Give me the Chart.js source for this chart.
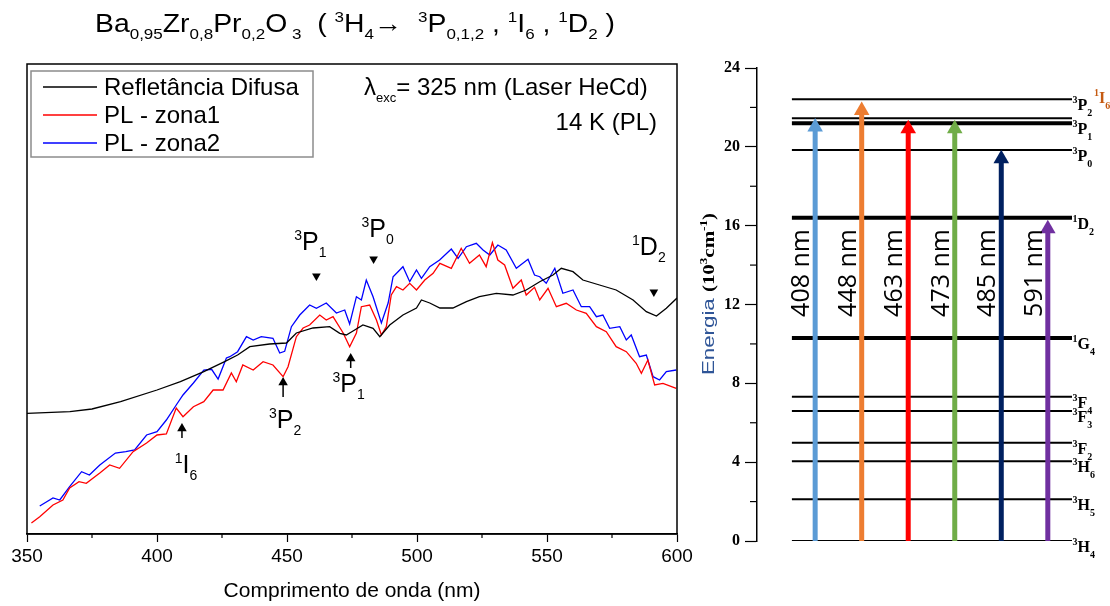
<!DOCTYPE html>
<html>
<head>
<meta charset="utf-8">
<script src="https://cdn.jsdelivr.net/npm/chart.js@4.4.0/dist/chart.umd.min.js"></script>
<style>
  html, body { margin: 0; padding: 0; background: #fff; }
  #wrap { position: relative; width: 1110px; height: 606px; overflow: hidden; }
  #spec { position: absolute; left: 0; top: 0; }
  #levels { position: absolute; left: 700px; top: 0; }
</style>
</head>
<body>
<div id="wrap">
  <canvas id="spec" width="700" height="606"></canvas>
  <canvas id="levels" width="410" height="606"></canvas>
</div>
<script>
// ---- spectra (wavelength in nm, intensity in arbitrary units) ----
const reflNm = [350, 366.5, 375, 386, 400, 409, 418, 426, 431, 435.7, 443.3, 449.8, 453.6, 460, 466.4, 470.3, 472.8, 475.4, 479.2, 483.1, 485.7, 489.5, 494.6, 499.8, 501.7, 504.9, 508.8, 513.8, 519, 524, 530.5, 536.9, 542, 547.2, 552.3, 555.5, 560, 563.8, 570.2, 576.6, 583.1, 588.2, 592.1, 595.9, 600];
const reflVal = [120.7, 122.3, 125, 132.3, 144, 152.3, 162.3, 172.3, 179, 187.3, 190, 191, 201, 206, 207.3, 200.7, 199, 203, 209, 205.7, 197.3, 209, 219, 226, 234, 231, 226, 226, 232.3, 237.3, 240.7, 239, 244, 252.3, 259, 265.7, 262.3, 254, 249, 244, 234, 222.3, 218, 225.7, 236];

const zona1Nm = [351.7, 354.9, 360, 363.8, 366.4, 370, 372.8, 378, 381.8, 385.6, 390.8, 396, 400, 403.6, 407.4, 410, 414, 418, 421.6, 425.4, 428.6, 430.5, 433, 437, 440.8, 444.6, 448.5, 450.4, 453.6, 456.2, 458.7, 462.6, 465.1, 467.7, 471.6, 474.1, 476.7, 478.6, 481.8, 484.4, 486.3, 488.2, 490.1, 492.1, 494.6, 497.2, 499.8, 503, 506.2, 508.8, 513.2, 517, 520.2, 524, 526.6, 529, 531.1, 533.7, 536.9, 540.1, 542, 545.2, 547.2, 550.4, 553.6, 557.4, 561.3, 565.1, 569, 572.8, 576.6, 580.5, 584.3, 586.3, 588.8, 591.4, 594.6, 599.7];
const zona1Val = [11, 17.3, 29, 34, 46, 52.3, 50.7, 61, 69, 65.7, 82.3, 91, 99, 100, 126, 117.3, 127.3, 132.3, 144, 144, 161, 152.3, 169, 164, 172.3, 169, 157.3, 167.3, 197.3, 206, 209, 219, 214, 217.3, 201, 187.3, 201, 227.3, 229, 214, 199, 207.3, 239, 247.3, 244, 250.7, 244, 254, 260.7, 270.7, 265.7, 285.7, 270.7, 279, 267.3, 291.3, 274, 269, 245.7, 254, 239, 246.7, 234, 245.7, 227.3, 230.7, 224, 220.7, 207.3, 202.3, 187.3, 182.3, 170.7, 160.7, 174, 149, 150.7, 145.7];

const zona2Nm = [354.9, 360, 362.6, 366.4, 371, 374, 378, 384, 388, 391.4, 396, 400, 403.6, 407.4, 410, 414, 418, 421, 423.5, 426.7, 428, 431, 434.4, 437, 440.1, 444.6, 447.2, 449.1, 451.7, 454.9, 458.7, 461.3, 465.1, 469, 472.2, 474.1, 476.7, 478.6, 480.5, 483.1, 486.3, 488.9, 490.8, 494.6, 497.2, 499.8, 501.7, 504.9, 508.7, 513.2, 515.8, 519, 522.8, 525.4, 528, 531.1, 534.3, 538.2, 542.7, 545.2, 547.2, 549.7, 553, 556.1, 560, 563.2, 566.4, 569, 571.5, 574.1, 578, 580.5, 582.4, 585.6, 588.2, 590.8, 593.3, 595.9, 599.7];
const zona2Val = [28, 36, 34, 47.3, 62.3, 59, 69, 81, 82.3, 84, 99, 102.3, 114, 129, 139, 151, 164, 164.7, 155, 176, 177.3, 182.3, 197.3, 194, 197.3, 195.7, 181, 182.7, 207.3, 219, 229, 225.7, 231, 221, 224, 210, 237.3, 234, 254, 237.3, 211, 231, 257.3, 267.3, 252.3, 264, 255.7, 267.3, 274, 285, 275.7, 287.3, 290.7, 284, 279, 289, 284, 265.7, 274.7, 259, 257.3, 250.7, 265.7, 240.7, 244, 227.3, 227.3, 217.3, 219, 205.7, 207.3, 194, 199, 177.3, 179, 157.3, 154, 162.3, 164];

const seriesNames = ['Refletância Difusa', 'PL - zona1', 'PL - zona2'];
const xTicks = [350, 400, 450, 500, 550, 600];

// transitions marked on the spectra
const downNames = ['3P1', '3P0', '1D2'];
const downNm = [461.3, 483.3, 591.1];
const downVal = [258, 275, 242];
const upNames = ['1I6', '3P2', '3P1'];
const upNm = [409.6, 448.5, 474.5];
const upBase = [96, 137, 166];
const upTip = [111, 157, 181];

// ---- energy level diagram (10^3 cm^-1) ----
const levelNames = ['3H4', '3H5', '3H6', '3F2', '3F3', '3F4', '1G4', '1D2', '3P0', '3P1', '1I6', '3P2'];
const levelEnergy = [0, 2.12, 4.05, 4.98, 6.59, 7.32, 10.3, 16.4, 19.84, 21.2, 21.45, 22.42];
const arrowLabels = ['408 nm', '448 nm', '463 nm', '473 nm', '485 nm', '591 nm'];
const arrowTip = [21.46, 22.3, 21.38, 21.38, 19.85, 16.3];
const energyTicks = [0, 4, 8, 12, 16, 20, 24];

Chart.defaults.font.family = '"Liberation Sans", Arial, sans-serif';
Chart.defaults.color = '#000';

// text with sub/superscripts; kind n normal, b subscript, p superscript
function richText(ctx, segs, x, y, o) {
  const fam = o.family || '"Liberation Sans", Arial, sans-serif';
  const wt = o.weight || 'normal';
  const fontOf = k => wt + ' ' + (k === 'n' ? o.size : o.small) + 'px ' + fam;
  let total = 0;
  const ws = segs.map(s => {
    ctx.font = s[3] || fontOf(s[1]);
    const w = ctx.measureText(s[0]).width;
    total += w;
    return w;
  });
  const sx = o.width ? o.width / total : 1;
  ctx.save();
  ctx.translate(x, y);
  if (o.rotate) ctx.rotate(o.rotate);
  ctx.scale(sx, 1);
  let cx = o.align === 'center' ? -total / 2 : (o.align === 'right' ? -total : 0);
  ctx.textAlign = 'left';
  ctx.textBaseline = 'alphabetic';
  segs.forEach((s, i) => {
    ctx.font = s[3] || fontOf(s[1]);
    ctx.fillStyle = s[2] || o.color || '#000';
    ctx.fillText(s[0], cx, s[1] === 'b' ? o.subDy : (s[1] === 'p' ? o.supDy : 0));
    cx += ws[i];
  });
  ctx.restore();
}

function term(name, colour) {
  return [[name[0], 'p', colour], [name[1], 'n', colour], [name.slice(2), 'b', colour]];
}

// moves the last point of an arrow down so that the triangle's apex sits on the value
const arrowHeads = {
  id: 'arrowHeads',
  afterDatasetsUpdate(chart) {
    chart.data.datasets.forEach((ds, i) => {
      if (!ds.headR) return;
      const pts = chart.getDatasetMeta(i).data;
      pts[pts.length - 1].y += ds.headR;
    });
  }
};

const seriesColours = ['#000000', '#ff0000', '#0000ff'];

function pts(xs, ys) {
  return xs.map((x, i) => ({ x: x, y: ys[i] }));
}

const specDatasets = [
  { label: seriesNames[0], data: pts(reflNm, reflVal), borderColor: seriesColours[0] },
  { label: seriesNames[1], data: pts(zona1Nm, zona1Val), borderColor: seriesColours[1] },
  { label: seriesNames[2], data: pts(zona2Nm, zona2Val), borderColor: seriesColours[2] }
].map(d => Object.assign(d, { showLine: true, pointRadius: 0, borderWidth: 1.3, tension: 0 }));

specDatasets.push({
  label: 'down',
  data: pts(downNm, downVal),
  showLine: false,
  pointStyle: 'triangle',
  rotation: 180,
  pointRadius: 5,
  backgroundColor: '#000',
  borderColor: '#000',
  borderWidth: 0
});
upNm.forEach((nm, i) => {
  specDatasets.push({
    label: 'up',
    data: [{ x: nm, y: upBase[i] }, { x: nm, y: upTip[i] }],
    showLine: true,
    borderColor: '#000',
    borderWidth: 1.5,
    pointStyle: 'triangle',
    pointRadius: [0, 5.5],
    backgroundColor: '#000',
    pointBorderWidth: 0,
    headR: 5.5
  });
});

const specDecor = {
  id: 'specDecor',
  afterDraw(chart) {
    const { ctx, chartArea: a, scales: { x, y } } = chart;
    ctx.save();
    ctx.strokeStyle = '#000';
    ctx.lineWidth = 1.5;
    ctx.strokeRect(a.left, a.top, a.right - a.left, a.bottom - a.top);
    // minor ticks
    ctx.lineWidth = 1.2;
    x.ticks.forEach(t => {
      if (xTicks.includes(t.value)) return;
      const px = x.getPixelForValue(t.value);
      ctx.beginPath();
      ctx.moveTo(px, a.bottom);
      ctx.lineTo(px, a.bottom + 4);
      ctx.stroke();
    });

    // title
    richText(ctx, [
      ['Ba', 'n'], ['0,95', 'b'], ['Zr', 'n'], ['0,8', 'b'], ['Pr', 'n'], ['0,2', 'b'], ['O', 'n'], [' 3', 'b'],
      ['  ( ', 'n'], ['3', 'p'], ['H', 'n'], ['4', 'b'], ['\u2192  ', 'n'], ['3', 'p'], ['P', 'n'], ['0,1,2', 'b'],
      [' , ', 'n'], ['1', 'p'], ['I', 'n'], ['6', 'b'], [' , ', 'n'], ['1', 'p'], ['D', 'n'], ['2', 'b'], [' )', 'n']
    ], 95, 32, { size: 25, small: 15, subDy: 7, supDy: -10, width: 520 });

    // legend
    ctx.strokeStyle = '#8c8c8c';
    ctx.lineWidth = 1.5;
    ctx.strokeRect(31, 71, 282, 86);
    ctx.font = '24px "Liberation Sans", Arial, sans-serif';
    ctx.textBaseline = 'middle';
    ctx.textAlign = 'left';
    [87, 115, 143].forEach((ly, i) => {
      ctx.strokeStyle = seriesColours[i];
      ctx.lineWidth = 1.5;
      ctx.beginPath();
      ctx.moveTo(43, ly);
      ctx.lineTo(97, ly);
      ctx.stroke();
      ctx.fillStyle = '#000';
      ctx.fillText(seriesNames[i], 104, ly + 1);
    });

    // excitation info
    richText(ctx, [['\u03bb', 'n'], ['exc', 'b'], ['= 325 nm (Laser HeCd)', 'n']], 364, 95,
      { size: 24, small: 13, subDy: 7, supDy: -9 });
    richText(ctx, [['14 K (PL)', 'n']], 657, 130, { size: 24, small: 14, align: 'right' });

    // transition labels
    const lab = { size: 25, small: 14, subDy: 7, supDy: -10, align: 'center' };
    const downOff = [[-6, -26], [4, -22], [-5, -37]];
    downNames.forEach((n, i) => {
      const px = x.getPixelForValue(downNm[i]);
      const py = y.getPixelForValue(downVal[i]);
      richText(ctx, term(n), px + downOff[i][0], py + downOff[i][1], lab);
    });
    const upOff = [[4, 35], [2, 31], [-2, 24]];
    upNames.forEach((n, i) => {
      const px = x.getPixelForValue(upNm[i]);
      const py = y.getPixelForValue(upBase[i]);
      richText(ctx, term(n), px + upOff[i][0], py + upOff[i][1], lab);
    });
    ctx.restore();
  }
};

new Chart(document.getElementById('spec'), {
  type: 'scatter',
  data: { datasets: specDatasets },
  options: {
    responsive: false,
    devicePixelRatio: 1,
    animation: false,
    layout: { padding: { left: 27, right: 23, top: 64, bottom: 0 } },
    plugins: { legend: { display: false }, tooltip: { enabled: false } },
    scales: {
      x: {
        type: 'linear',
        min: 350,
        max: 600,
        afterFit: s => { s.height = 72; },
        afterBuildTicks: s => { s.ticks = [350, 375, 400, 425, 450, 475, 500, 525, 550, 575, 600].map(v => ({ value: v })); },
        ticks: {
          autoSkip: false,
          maxRotation: 0,
          padding: 3,
          font: { size: 19 },
          color: '#000',
          callback: v => (xTicks.includes(v) ? String(v) : '')
        },
        grid: {
          drawOnChartArea: false,
          tickLength: 8,
          tickWidth: 1.2,
          tickColor: c => (c.tick && xTicks.includes(c.tick.value) ? '#000' : 'rgba(0,0,0,0)')
        },
        border: { color: '#000', width: 1.5 },
        title: {
          display: true,
          text: 'Comprimento de onda (nm)',
          font: { size: 21 },
          color: '#000',
          padding: { top: 0, bottom: 2 }
        }
      },
      y: { display: false, min: 0, max: 470 }
    }
  },
  plugins: [arrowHeads, specDecor]
});

// ---- energy diagram ----
const arrowColours = ['#5b9bd5', '#ed7d31', '#ff0000', '#70ad47', '#002060', '#7030a0'];
const thickLevels = ['1D2', '1G4', '3P1'];

const levelDatasets = levelNames.map((n, i) => ({
  label: n,
  data: [{ x: -0.5, y: levelEnergy[i] }, { x: 5.52, y: levelEnergy[i] }],
  showLine: true,
  pointRadius: 0,
  borderColor: '#000',
  borderWidth: thickLevels.includes(n) ? 4 : 2,
  order: 2
}));
const arrowDatasets = arrowLabels.map((n, i) => ({
  label: n,
  data: [{ x: i, y: 0 }, { x: i, y: arrowTip[i] }],
  showLine: true,
  borderColor: arrowColours[i],
  borderWidth: 5,
  borderCapStyle: 'butt',
  pointStyle: 'triangle',
  pointRadius: [0, 9],
  backgroundColor: arrowColours[i],
  pointBorderWidth: 0,
  headR: 9,
  order: 1
}));

const levelDecor = {
  id: 'levelDecor',
  afterDraw(chart) {
    const { ctx, chartArea: a, scales: { x, y } } = chart;
    ctx.save();
    // minor ticks
    ctx.strokeStyle = '#000';
    ctx.lineWidth = 1.2;
    energyTicks.slice(1).forEach(v => {
      const py = y.getPixelForValue(v - 2);
      ctx.beginPath();
      ctx.moveTo(a.left - 7, py);
      ctx.lineTo(a.left, py);
      ctx.stroke();
    });
    // level names
    const lf = { family: '"Liberation Serif", serif', weight: 'bold', size: 16, small: 10, supDy: -7, subDy: 6 };
    const topPx = y.getPixelForValue(levelEnergy[levelNames.indexOf('3P2')]);
    levelNames.forEach((n, i) => {
      if (n === '1I6') {
        richText(ctx, term(n, '#c55a11'), a.right + 22, topPx + 4, lf);
        return;
      }
      richText(ctx, term(n), a.right + 0.5, y.getPixelForValue(levelEnergy[i]) + 11, lf);
    });
    // wavelengths along the arrows
    arrowLabels.forEach((t, i) => {
      richText(ctx, [[t, 'n']], x.getPixelForValue(i) - 6, y.getPixelForValue(13.6),
        { size: 25, family: '"Open Sans", sans-serif', rotate: -Math.PI / 2, align: 'center' });
    });
    // axis title
    richText(ctx, [
      ['Energia ', 'n', '#2f5597', '17px "Liberation Sans", sans-serif'],
      ['(10', 'n', '#000', 'bold 16px "Liberation Serif", serif'],
      ['3', 'p', '#000', 'bold 10px "Liberation Serif", serif'],
      ['cm', 'n', '#000', 'bold 16px "Liberation Serif", serif'],
      ['-1', 'p', '#000', 'bold 10px "Liberation Serif", serif'],
      [')', 'n', '#000', 'bold 16px "Liberation Serif", serif']
    ], 14, 375, { rotate: -Math.PI / 2, width: 162, supDy: -7, subDy: 4 });
    ctx.restore();
  }
};

new Chart(document.getElementById('levels'), {
  type: 'scatter',
  data: { datasets: arrowDatasets.concat(levelDatasets) },
  options: {
    responsive: false,
    devicePixelRatio: 1,
    animation: false,
    layout: { padding: { left: 0, right: 38, top: 68, bottom: 65 } },
    plugins: { legend: { display: false }, tooltip: { enabled: false } },
    scales: {
      x: { display: false, type: 'linear', min: -1.25, max: 5.52 },
      y: {
        min: 0,
        max: 24,
        afterFit: s => { s.width = 57; },
        afterBuildTicks: s => { s.ticks = energyTicks.map(v => ({ value: v })); },
        ticks: {
          padding: 5,
          color: '#000',
          font: { family: '"Liberation Serif", serif', weight: 'bold', size: 16 }
        },
        grid: { drawOnChartArea: false, tickLength: 12, tickWidth: 1.2, tickColor: '#000' },
        border: { color: '#000', width: 1.5 }
      }
    }
  },
  plugins: [arrowHeads, levelDecor]
});
</script>
</body>
</html>
